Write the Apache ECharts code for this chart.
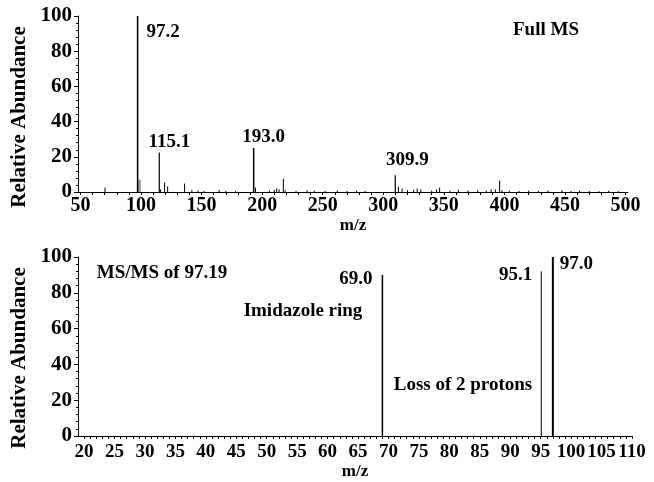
<!DOCTYPE html>
<html>
<head>
<meta charset="utf-8">
<script src="https://cdn.jsdelivr.net/npm/echarts@6/dist/echarts.min.js"></script>
<style>
  html, body { margin: 0; padding: 0; background: #fff; }
  #chart { width: 654px; height: 482px; }
</style>
</head>
<body>
<div id="chart"></div>
<script>
// ---- Full MS spectrum ----
// labelled peaks
var fullMajorMz = [97.2, 115.1, 193.0, 309.9];
var fullMajorAbund = [100, 22.5, 25, 9.5];
// isotope cluster next to the base peak
var fullIsoMz = [98.6];
var fullIsoAbund = [7];
// smaller unlabelled peaks
var fullMinorMz = [70.3, 116.2, 119.5, 122.0, 136.0, 142.0, 147.0, 152.0, 164.5, 170.0, 178.0,
  194.5, 206.0, 210.0, 212.0, 214.0, 217.5, 219.0, 228.0, 237.0, 243.0, 252.0, 262.0, 270.0,
  278.0, 285.0, 312.5, 315.5, 320.0, 325.0, 328.0, 331.0, 340.0, 344.0, 346.5, 355.0, 362.0,
  370.0, 378.0, 385.0, 389.0, 392.5, 396.0, 398.0, 404.0, 412.0, 420.0, 428.0, 436.0, 447.5,
  455.0, 462.0, 470.0, 478.0, 486.0, 494.0];
var fullMinorAbund = [2.5, 1.5, 5.5, 3.2, 4.8, 1.0, 0.8, 0.6, 1.2, 0.6, 0.5,
  2.5, 0.8, 1.2, 2.0, 1.5, 7.5, 1.0, 0.6, 1.0, 0.8, 0.6, 0.8, 0.6,
  0.8, 0.6, 3.0, 2.0, 1.0, 1.2, 2.0, 1.5, 0.8, 1.5, 2.5, 0.8, 1.2,
  0.8, 1.0, 0.8, 1.5, 1.5, 6.5, 1.0, 0.8, 0.6, 0.8, 0.6, 0.8, 1.0,
  0.6, 0.8, 0.6, 0.5, 0.6, 0.5];
var fullTickLabels = [50, 100, 150, 200, 250, 300, 350, 400, 450, 500];

// ---- MS/MS of 97.19 ----
var msmsMz = [69.0, 95.1, 97.0];
var msmsAbund = [90, 92, 100];
var msmsTickLabels = [20, 25, 30, 35, 40, 45, 50, 55, 60, 65, 70, 75, 80, 85, 90, 95, 100, 105, 110];

// drawing styles (kept apart from the data)
var fullMajorStyle = [
  { w: 1.5, dx: 9, dy: 16, align: 'left' },
  { w: 1.2, dx: 10, dy: -10, align: 'center' },
  { w: 1.5, dx: 10, dy: -11, align: 'center' },
  { w: 1.2, dx: 12, dy: -15, align: 'center' }
];
var msmsStyle = [
  { w: 1.5, dx: -10, dy: 4, align: 'right' },
  { w: 1.0, dx: -9, dy: 4, align: 'right' },
  { w: 2.0, dx: 7, dy: 7, align: 'left' }
];

var FONT = '"Liberation Serif", "DejaVu Serif", serif';
var INK = '#000';

function range(a, b, step) {
  var out = [];
  for (var v = a; v <= b + 1e-9; v += step) out.push(+v.toFixed(6));
  return out;
}

function pairs(xs, ys) {
  return xs.map(function (x, i) { return [x, ys[i]]; });
}

function stickRenderer(color, width, styles) {
  return function (params, api) {
    var x = api.value(0), y = api.value(1);
    var p0 = api.coord([x, 0]);
    var p1 = api.coord([x, y]);
    var st = styles ? styles[params.dataIndex] : null;
    var lw = st ? st.w : width;
    var children = [{
      type: 'line',
      shape: { x1: p0[0], y1: p0[1], x2: p1[0], y2: p1[1] },
      style: { stroke: color, lineWidth: lw }
    }];
    if (st) {
      children.push({
        type: 'text',
        x: p1[0] + st.dx,
        y: p1[1] + st.dy,
        style: {
          text: x.toFixed(1),
          font: 'bold 19px ' + FONT,
          fill: INK,
          align: st.align,
          verticalAlign: 'middle'
        }
      });
    }
    return { type: 'group', children: children };
  };
}

function xAxisCfg(idx, min, max, tickVals, labelVals, margin, labelSize, nameGap) {
  return {
    type: 'value', gridIndex: idx, min: min, max: max,
    splitLine: { show: false },
    axisLine: { show: true, onZero: false, lineStyle: { color: INK, width: 1 } },
    axisTick: { show: true, length: 3, customValues: tickVals, lineStyle: { color: INK } },
    axisLabel: {
      customValues: labelVals, margin: margin,
      fontFamily: FONT, fontWeight: 'bold', fontSize: labelSize, color: INK
    },
    name: 'm/z', nameLocation: 'middle', nameGap: nameGap,
    nameTextStyle: { fontFamily: FONT, fontWeight: 'bold', fontSize: 17, color: INK }
  };
}

function yAxisCfg(idx) {
  return {
    type: 'value', gridIndex: idx, min: 0, max: 100, interval: 20,
    splitLine: { show: false },
    axisLine: { show: true, lineStyle: { color: INK, width: 1 } },
    axisTick: { show: true, length: 4, lineStyle: { color: INK } },
    minorTick: { show: true, splitNumber: 5, length: 2, lineStyle: { color: INK } },
    axisLabel: { margin: 6, fontFamily: FONT, fontWeight: 'bold', fontSize: 21, color: INK }
  };
}

function note(text, x, y, size) {
  return {
    type: 'text', x: x, y: y,
    style: { text: text, font: 'bold ' + size + 'px ' + FONT, fill: INK, align: 'center', verticalAlign: 'middle' }
  };
}

function yTitle(y) {
  return {
    type: 'text', x: 20, y: y, rotation: Math.PI / 2,
    style: { text: 'Relative Abundance', font: 'bold 21px ' + FONT, fill: INK, align: 'center', verticalAlign: 'middle' }
  };
}

var chart = echarts.init(document.getElementById('chart'), null, { renderer: 'canvas' });

chart.setOption({
  animation: false,
  backgroundColor: '#fff',
  grid: [
    { left: 78, top: 16, width: 550, height: 176 },
    { left: 78, top: 257, width: 554, height: 179 }
  ],
  xAxis: [
    xAxisCfg(0, 48, 502, range(50, 500, 10), fullTickLabels, 4, 20, 15),
    xAxisCfg(1, 19, 110, range(20, 110, 1), msmsTickLabels, 7, 19, 24)
  ],
  yAxis: [yAxisCfg(0), yAxisCfg(1)],
  graphic: [
    yTitle(117),
    yTitle(358),
    note('Full MS', 546, 30, 19),
    note('MS/MS of 97.19', 162, 273, 19),
    note('Imidazole ring', 303, 311, 19),
    note('Loss of 2 protons', 463, 385, 19)
  ],
  series: [
    {
      type: 'custom', xAxisIndex: 0, yAxisIndex: 0,
      renderItem: stickRenderer(INK, 1),
      data: pairs(fullMinorMz, fullMinorAbund)
    },
    {
      type: 'custom', xAxisIndex: 0, yAxisIndex: 0,
      renderItem: stickRenderer('#9a9a9a', 3),
      data: pairs(fullIsoMz, fullIsoAbund)
    },
    {
      type: 'custom', xAxisIndex: 0, yAxisIndex: 0,
      renderItem: stickRenderer(INK, 1, fullMajorStyle),
      data: pairs(fullMajorMz, fullMajorAbund)
    },
    {
      type: 'custom', xAxisIndex: 1, yAxisIndex: 1,
      renderItem: stickRenderer(INK, 1, msmsStyle),
      data: pairs(msmsMz, msmsAbund)
    }
  ]
});
</script>
</body>
</html>
